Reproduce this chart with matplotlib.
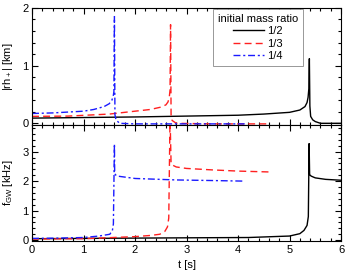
import matplotlib
matplotlib.use("Agg")
import matplotlib.pyplot as plt
from matplotlib.ticker import MultipleLocator

plt.rcParams['font.family'] = ['Liberation Sans', 'DejaVu Sans']
plt.rcParams['mathtext.fontset'] = 'custom'
plt.rcParams['mathtext.rm'] = 'Liberation Sans'
plt.rcParams['mathtext.it'] = 'Liberation Sans'
plt.rcParams['font.size'] = 8

# series labels
labels = ['1/2', '1/3', '1/4']

# top panel: |r h_+| [km]
t_h_12 = [0, 1, 2, 3, 4, 4.5, 5.0, 5.2, 5.3, 5.34, 5.36, 5.375, 5.385, 5.395, 5.41, 5.45, 5.5, 5.6, 6.0]
h_12 = [0.09, 0.10, 0.11, 0.125, 0.14, 0.16, 0.19, 0.23, 0.29, 0.36, 0.45, 0.60, 1.12, 0.30, 0.12, 0.06, 0.03, 0.0, 0.0]

t_h_13 = [0, 0.7, 1.5, 2.0, 2.3, 2.5, 2.6, 2.64, 2.665, 2.68, 2.69, 2.70, 2.72, 2.8, 3.5, 4.6]
h_13 = [0.12, 0.125, 0.16, 0.21, 0.24, 0.28, 0.32, 0.37, 0.45, 0.58, 1.71, 0.15, 0.05, 0.0, -0.01, -0.01]

t_h_14 = [0, 0.4, 0.8, 1.0, 1.2, 1.4, 1.5, 1.55, 1.575, 1.59, 1.60, 1.61, 1.63, 1.7, 2.0, 3.0, 4.13]
h_14 = [0.17, 0.18, 0.20, 0.21, 0.24, 0.29, 0.34, 0.40, 0.46, 0.55, 1.85, 0.15, 0.06, 0.0, -0.01, -0.01, -0.01]

# bottom panel: f_GW [kHz]
t_f_12 = [0, 1, 2, 3, 4.2, 5.0, 5.2, 5.28, 5.34, 5.365, 5.38, 5.39, 5.42, 5.5, 5.7, 6.0]
f_12 = [0.05, 0.06, 0.07, 0.08, 0.09, 0.14, 0.22, 0.33, 0.50, 0.80, 3.27, 2.22, 2.17, 2.11, 2.06, 2.03]

t_f_13 = [0, 1, 2, 2.3, 2.48, 2.58, 2.63, 2.655, 2.68, 2.70, 2.72, 2.8, 3.0, 3.5, 4.0, 4.62]
f_13 = [0.04, 0.05, 0.12, 0.16, 0.20, 0.30, 0.45, 0.75, 4.2, 2.6, 2.55, 2.48, 2.43, 2.38, 2.34, 2.31]

t_f_14 = [0, 0.5, 1.0, 1.3, 1.51, 1.56, 1.58, 1.60, 1.605, 1.63, 1.66, 2.0, 2.8, 3.5, 4.13]
f_14 = [0.06, 0.07, 0.09, 0.14, 0.20, 0.32, 0.55, 3.26, 2.25, 2.2, 2.17, 2.09, 2.04, 2.02, 2.0]

colors = ['black', '#ff2020', '#1a1aff']
styles = [dict(linestyle='-'), dict(dashes=(5, 3)), dict(dashes=(5, 2, 1.5, 2))]

fig = plt.figure(figsize=(3.48, 2.73), dpi=100)
ax1 = fig.add_axes([0.092, 0.542, 0.888, 0.429])
ax2 = fig.add_axes([0.092, 0.117, 0.888, 0.425])

top = [(t_h_12, h_12), (t_h_13, h_13), (t_h_14, h_14)]
bot = [(t_f_12, f_12), (t_f_13, f_13), (t_f_14, f_14)]
for (t, v), c, s, lab in zip(top, colors, styles, labels):
    ax1.plot(t, v, color=c, lw=1.0, label=lab, **s)
for (t, v), c, s in zip(bot, colors, styles):
    ax2.plot(t, v, color=c, lw=1.0, **s)

ax1.set_xlim(0, 6)
ax1.set_ylim(-0.03, 2)
ax2.set_xlim(0, 6)
ax2.set_ylim(-0.03, 3.9)

for ax in (ax1, ax2):
    ax.xaxis.set_major_locator(MultipleLocator(1))
    ax.xaxis.set_minor_locator(MultipleLocator(0.2))
    ax.yaxis.set_major_locator(MultipleLocator(1))
    ax.yaxis.set_minor_locator(MultipleLocator(0.2))
    ax.tick_params(which='both', direction='in', top=True, right=True, width=0.8, pad=2.5)
    ax.tick_params(which='major', length=4)
    ax.tick_params(which='minor', length=2)
    for sp in ax.spines.values():
        sp.set_linewidth(0.8)
ax1.tick_params(labelbottom=False)

ax1.set_ylabel(r'|rh$_+$| [km]', labelpad=5)
ax2.set_ylabel(r'f$_{GW}$ [kHz]', labelpad=5)
ax2.set_xlabel('t [s]', labelpad=4)

leg = ax1.legend(title='initial mass ratio', loc='upper right', bbox_to_anchor=(0.877, 0.99),
                 fancybox=False, framealpha=1, edgecolor='#888888', handlelength=2.8,
                 labelspacing=0.2, borderpad=0.45, handletextpad=0.3, borderaxespad=0,
                 fontsize=8, title_fontsize=8)
leg.get_frame().set_linewidth(0.6)

fig.savefig('out.png', dpi=100)
